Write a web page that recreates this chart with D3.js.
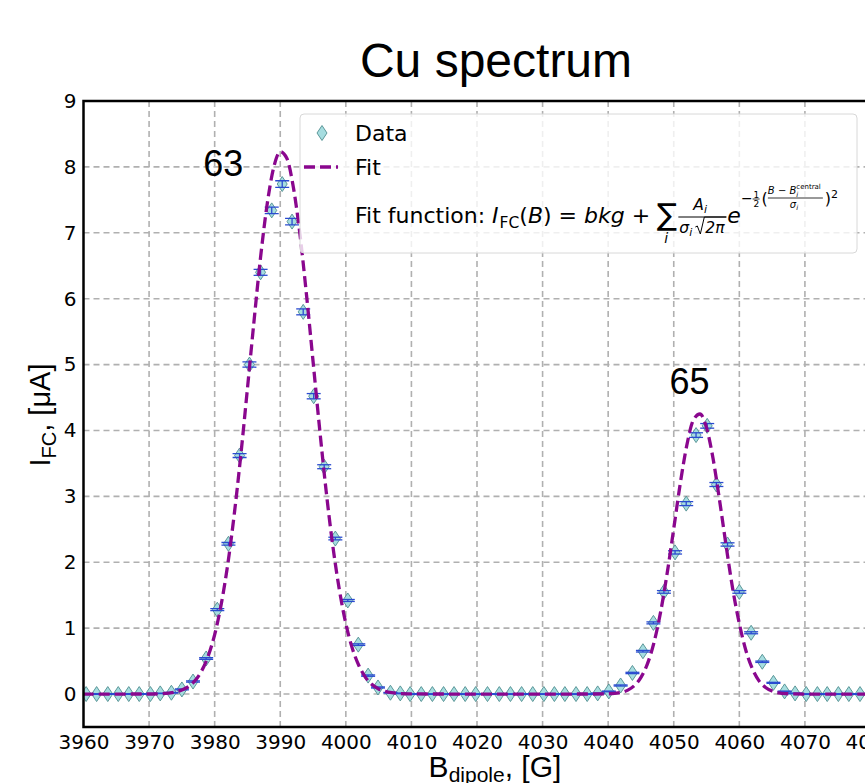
<!DOCTYPE html>
<html>
<head>
<meta charset="utf-8">
<script src="https://cdn.jsdelivr.net/npm/d3@7"></script>
<style>
  body { margin: 0; background: #fff; }
  svg { display: block; }
  text { white-space: pre; }
</style>
</head>
<body>
<script>
// measured data points: magnetic field [G] and Faraday cup current [uA]
var bField = [3960.4, 3962.0, 3963.7, 3965.3, 3966.9, 3968.5, 3970.2, 3971.7, 3973.4,
	3975.0, 3976.7, 3978.7, 3980.4, 3982.1, 3983.8, 3985.3, 3987.0, 3988.7, 3990.3,
	3991.8, 3993.5, 3995.1, 3996.7, 3998.4, 4000.3, 4001.9, 4003.4, 4004.9, 4006.8,
	4008.3, 4009.8, 4011.5, 4013.2, 4014.9, 4016.5, 4018.2, 4019.8, 4021.6, 4023.4,
	4025.1, 4026.8, 4028.5, 4030.2, 4031.8, 4033.4, 4035.1, 4036.8, 4038.4, 4040.1,
	4041.9, 4043.7, 4045.3, 4046.9, 4048.5, 4050.2, 4051.9, 4053.4, 4055.1, 4056.5,
	4058.2, 4060.0, 4061.8, 4063.5, 4065.2, 4066.9, 4068.5, 4070.2, 4071.9, 4073.4,
	4075.1, 4076.7, 4078.4, 4080.1];
var current = [0.00, 0.00, 0.00, 0.00, 0.00, 0.00, 0.00, 0.01, 0.02,
	0.07, 0.19, 0.54, 1.28, 2.28, 3.62, 5.00, 6.40, 7.34, 7.74,
	7.17, 5.80, 4.52, 3.45, 2.36, 1.42, 0.75, 0.28, 0.10, 0.02,
	0.01, 0.00, 0.00, 0.00, 0.00, 0.00, 0.00, 0.00, 0.00, 0.00,
	0.00, 0.00, 0.00, 0.00, 0.00, 0.00, 0.00, 0.00, 0.01, 0.04,
	0.13, 0.32, 0.65, 1.08, 1.55, 2.15, 2.89, 3.93, 4.07, 3.18,
	2.27, 1.55, 0.93, 0.49, 0.17, 0.04, 0.01, 0.00, 0.00, 0.00,
	0.00, 0.00, 0.00, 0.00];
var currentErr = [0.005, 0.005, 0.005, 0.005, 0.005, 0.005, 0.005, 0.005, 0.005,
	0.008, 0.01, 0.012, 0.015, 0.02, 0.03, 0.04, 0.045, 0.05, 0.05,
	0.05, 0.045, 0.04, 0.03, 0.02, 0.015, 0.012, 0.01, 0.008, 0.005,
	0.005, 0.005, 0.005, 0.005, 0.005, 0.005, 0.005, 0.005, 0.005, 0.005,
	0.005, 0.005, 0.005, 0.005, 0.005, 0.005, 0.005, 0.005, 0.005, 0.005,
	0.008, 0.01, 0.012, 0.015, 0.02, 0.025, 0.03, 0.035, 0.035, 0.03,
	0.025, 0.02, 0.015, 0.01, 0.008, 0.005, 0.005, 0.005, 0.005, 0.005,
	0.005, 0.005, 0.005, 0.005];

// fit curve
var fitB = [3955, 3960, 3970, 3972, 3974, 3975, 3976, 3977, 3978, 3979, 3980, 3981, 3982,
	3983, 3984, 3985, 3986, 3987, 3988, 3989, 3990, 3991, 3992, 3993, 3994, 3995,
	3996, 3997, 3998, 3999, 4000, 4001, 4002, 4003, 4004, 4005, 4006, 4007, 4008,
	4010, 4020, 4030, 4038, 4040, 4042, 4043, 4044, 4045, 4046, 4047, 4048, 4049,
	4050, 4051, 4052, 4053, 4054, 4055, 4056, 4057, 4058, 4059, 4060, 4061, 4062,
	4063, 4064, 4065, 4066, 4067, 4068, 4070, 4085];
var fitI = [0, 0, 0.001, 0.007, 0.031, 0.061, 0.113, 0.203, 0.349, 0.573, 0.902, 1.363, 1.97,
	2.74, 3.64, 4.64, 5.66, 6.63, 7.43, 7.99, 8.23, 8.13, 7.69, 6.98, 6.06, 5.05,
	4.03, 3.08, 2.26, 1.59, 1.07, 0.69, 0.43, 0.253, 0.144, 0.078, 0.041, 0.020, 0.010,
	0.002, 0, 0, 0.001, 0.004, 0.026, 0.060, 0.128, 0.252, 0.462, 0.787, 1.247, 1.836,
	2.51, 3.20, 3.78, 4.16, 4.25, 4.04, 3.57, 2.93, 2.24, 1.59, 1.07, 0.66, 0.38,
	0.20, 0.10, 0.045, 0.019, 0.007, 0.003, 0, 0];

// isotope annotations
var peakLabels = ['63', '65'];
var peakLabelB = [3981.3, 4052.4];
var peakLabelI = [7.86, 4.55];

var xTicks = [3960, 3970, 3980, 3990, 4000, 4010, 4020, 4030, 4040, 4050, 4060, 4070, 4080];
var yTicks = [0, 1, 2, 3, 4, 5, 6, 7, 8, 9];

var width = 865,
	height = 783,
	margin = {top: 101, left: 83.5, bottom: 727, right: 870.5};

var sans = '"Liberation Sans", Arial, sans-serif',
	dejavu = '"DejaVu Sans", sans-serif';

var svg = d3.select('body').append('svg')
	.attr('width', width)
	.attr('height', height);

svg.append('rect').attr('width', width).attr('height', height).attr('fill', '#fff');

var x = d3.scaleLinear().domain([3960, 4080]).range([margin.left, margin.right]);
var y = d3.scaleLinear().domain([-0.5, 9]).range([margin.bottom, margin.top]);

svg.append('clipPath').attr('id', 'plot-clip')
	.append('rect')
	.attr('x', margin.left).attr('y', margin.top)
	.attr('width', margin.right - margin.left + 40)
	.attr('height', margin.bottom - margin.top);

// grid
var grid = svg.append('g').attr('stroke', '#b0b0b0').attr('stroke-width', 1.6)
	.attr('stroke-dasharray', '6,4');
grid.selectAll('.gx').data(xTicks.slice(1)).enter().append('line')
	.attr('x1', function(d) { return x(d); }).attr('x2', function(d) { return x(d); })
	.attr('y1', margin.top).attr('y2', margin.bottom);
grid.selectAll('.gy').data(yTicks.slice(0, -1)).enter().append('line')
	.attr('x1', margin.left).attr('x2', margin.right + 40)
	.attr('y1', function(d) { return y(d); }).attr('y2', function(d) { return y(d); });

var plot = svg.append('g').attr('clip-path', 'url(#plot-clip)');

var points = bField.map(function(b, i) {
	return {b: b, v: current[i], e: currentErr[i]};
});

// diamond markers
plot.selectAll('.pt').data(points).enter().append('path')
	.attr('class', 'pt')
	.attr('d', 'M0,-7.5L5,0L0,7.5L-5,0Z')
	.attr('transform', function(d) { return 'translate(' + x(d.b) + ',' + y(d.v) + ')'; })
	.attr('fill', '#a6dde0')
	.attr('stroke', '#4f8d8f')
	.attr('stroke-width', 0.9);

// error bars with caps
var eb = plot.append('g').attr('stroke', '#2a4bd0').attr('stroke-width', 1.3);
points.forEach(function(d) {
	var cx = x(d.b);
	eb.append('line').attr('x1', cx).attr('x2', cx)
		.attr('y1', y(d.v - d.e)).attr('y2', y(d.v + d.e));
	eb.append('line').attr('x1', cx - 7).attr('x2', cx + 7)
		.attr('y1', y(d.v - d.e)).attr('y2', y(d.v - d.e));
	eb.append('line').attr('x1', cx - 7).attr('x2', cx + 7)
		.attr('y1', y(d.v + d.e)).attr('y2', y(d.v + d.e));
});

// fit
var line = d3.line()
	.x(function(d, i) { return x(fitB[i]); })
	.y(function(d) { return y(d); })
	.curve(d3.curveMonotoneX);
plot.append('path')
	.attr('d', line(fitI))
	.attr('fill', 'none')
	.attr('stroke', '#8a078e')
	.attr('stroke-width', 3.3)
	.attr('stroke-dasharray', '11,5');

// peak labels
svg.selectAll('.peak').data(peakLabels).enter().append('text')
	.attr('x', function(d, i) { return x(peakLabelB[i]); })
	.attr('y', function(d, i) { return y(peakLabelI[i]); })
	.attr('text-anchor', 'middle')
	.style('font-family', sans)
	.style('font-size', '36px')
	.text(function(d) { return d; });

// axes
svg.append('g')
	.attr('transform', 'translate(0,' + margin.bottom + ')')
	.call(d3.axisBottom(x).tickValues(xTicks).tickSize(0).tickPadding(8).tickFormat(d3.format('d')))
	.call(function(g) {
		g.select('.domain').remove();
		g.selectAll('text').style('font-family', dejavu).style('font-size', '20px').attr('fill', '#000');
	});
svg.append('g')
	.attr('transform', 'translate(' + margin.left + ',0)')
	.call(d3.axisLeft(y).tickValues(yTicks).tickSize(0).tickPadding(7))
	.call(function(g) {
		g.select('.domain').remove();
		g.selectAll('text').style('font-family', dejavu).style('font-size', '20px').attr('fill', '#000');
	});

// spines
svg.append('path')
	.attr('d', 'M' + (margin.right + 40) + ',' + margin.top + 'H' + margin.left + 'V' + margin.bottom + 'H' + (margin.right + 40))
	.attr('fill', 'none').attr('stroke', '#000').attr('stroke-width', 2.5);

// title
svg.append('text')
	.attr('x', 496).attr('y', 77)
	.attr('text-anchor', 'middle')
	.style('font-family', sans).style('font-size', '48px')
	.text('Cu spectrum');

// axis labels
var xl = svg.append('text')
	.attr('x', 495).attr('y', 777)
	.attr('text-anchor', 'middle')
	.style('font-family', sans).style('font-size', '30px');
xl.append('tspan').text('B');
xl.append('tspan').attr('dy', 5).style('font-size', '21px').text('dipole');
xl.append('tspan').attr('dy', -5).text(', [G]');

var yl = svg.append('text')
	.attr('transform', 'translate(50,415) rotate(-90)')
	.attr('text-anchor', 'middle')
	.style('font-family', sans).style('font-size', '29px');
yl.append('tspan').text('I');
yl.append('tspan').attr('dy', 6).style('font-size', '20px').text('FC');
yl.append('tspan').attr('dy', -6).text(', [\u03bcA]');

// legend
var lg = svg.append('g').style('font-family', dejavu);
lg.append('rect')
	.attr('x', 300).attr('y', 114).attr('width', 557).attr('height', 139)
	.attr('rx', 4)
	.attr('fill', '#fff').attr('fill-opacity', 0.8)
	.attr('stroke', '#d8d8d8').attr('stroke-width', 1);
lg.append('path')
	.attr('d', 'M0,-7.5L5,0L0,7.5L-5,0Z')
	.attr('transform', 'translate(322,133)')
	.attr('fill', '#a6dde0').attr('stroke', '#4f8d8f').attr('stroke-width', 0.9);
lg.append('line')
	.attr('x1', 304).attr('x2', 338).attr('y1', 167).attr('y2', 167)
	.attr('stroke', '#8a078e').attr('stroke-width', 3.3).attr('stroke-dasharray', '11,5');
lg.append('text').attr('x', 355).attr('y', 141).style('font-size', '22px').text('Data');
lg.append('text').attr('x', 355).attr('y', 175).style('font-size', '22px').text('Fit');

// fit function, laid out piece by piece
var base = 223, cur = 355;
function put(txt, px, py, size, italic) {
	var t = lg.append('text').attr('x', px).attr('y', py)
		.style('font-size', size + 'px')
		.style('font-style', italic ? 'italic' : 'normal')
		.text(txt);
	return t.node().getComputedTextLength();
}
cur += put('Fit function: ', cur, base, 22, false);
cur += put('I', cur, base, 22, true) + 1;
cur += put('FC', cur, base + 5, 15.5, false);
cur += put('(', cur, base, 22, false);
cur += put('B', cur, base, 22, true);
cur += put(') = ', cur, base, 22, false);
cur += put('bkg', cur, base, 22, true);
cur += put(' + ', cur, base, 22, false);
// sum sign with index
var sw = put('\u2211', cur, base + 2, 30, false);
put('i', cur + sw / 2 - 3, base + 20, 14, true);
cur += sw + 1;
// fraction A_i / (sigma_i sqrt(2 pi))
var fx = cur, fw = 48;
var aw = put('A', fx + 15, base - 13, 15.5, true);
put('i', fx + 15 + aw, base - 10, 11, true);
lg.append('line').attr('x1', fx).attr('x2', fx + fw).attr('y1', base - 6).attr('y2', base - 6)
	.attr('stroke', '#000').attr('stroke-width', 1);
var s1 = put('\u03c3', fx + 1, base + 10, 15.5, true);
put('i', fx + 1 + s1, base + 13, 11, true);
lg.append('path')
	.attr('d', 'M' + (fx + 17) + ',' + (base + 4) + 'l2,-1l3,8l4,-17h22')
	.attr('fill', 'none').attr('stroke', '#000').attr('stroke-width', 1);
put('2\u03c0', fx + 27, base + 10, 15.5, true);
cur += fw + 1;
cur += put('e', cur, base, 22, true);
// exponent
var ex = cur, ey = base - 20;
ex += put('\u2212', ex, ey, 14, false);
put('1', ex + 1, ey - 5, 9, false);
lg.append('line').attr('x1', ex).attr('x2', ex + 7).attr('y1', ey - 4).attr('y2', ey - 4)
	.attr('stroke', '#000').attr('stroke-width', 0.8);
put('2', ex + 1, ey + 4, 9, false);
ex += 9;
ex += put('(', ex, ey + 1, 16, false);
var nx = ex;
var nw = put('B \u2212 B', nx, ey - 9, 10, true);
put('central', nx + nw, ey - 14, 7, false);
put('i', nx + nw, ey - 6, 7, true);
lg.append('line').attr('x1', nx).attr('x2', nx + 55).attr('y1', ey - 5).attr('y2', ey - 5)
	.attr('stroke', '#000').attr('stroke-width', 0.8);
var sg = put('\u03c3', nx + 22, ey + 5, 10, true);
put('i', nx + 22 + sg, ey + 7, 7, true);
ex += 57;
ex += put(')', ex, ey + 1, 16, false);
put('2', ex, ey - 5, 11, false);
</script>
</body>
</html>
